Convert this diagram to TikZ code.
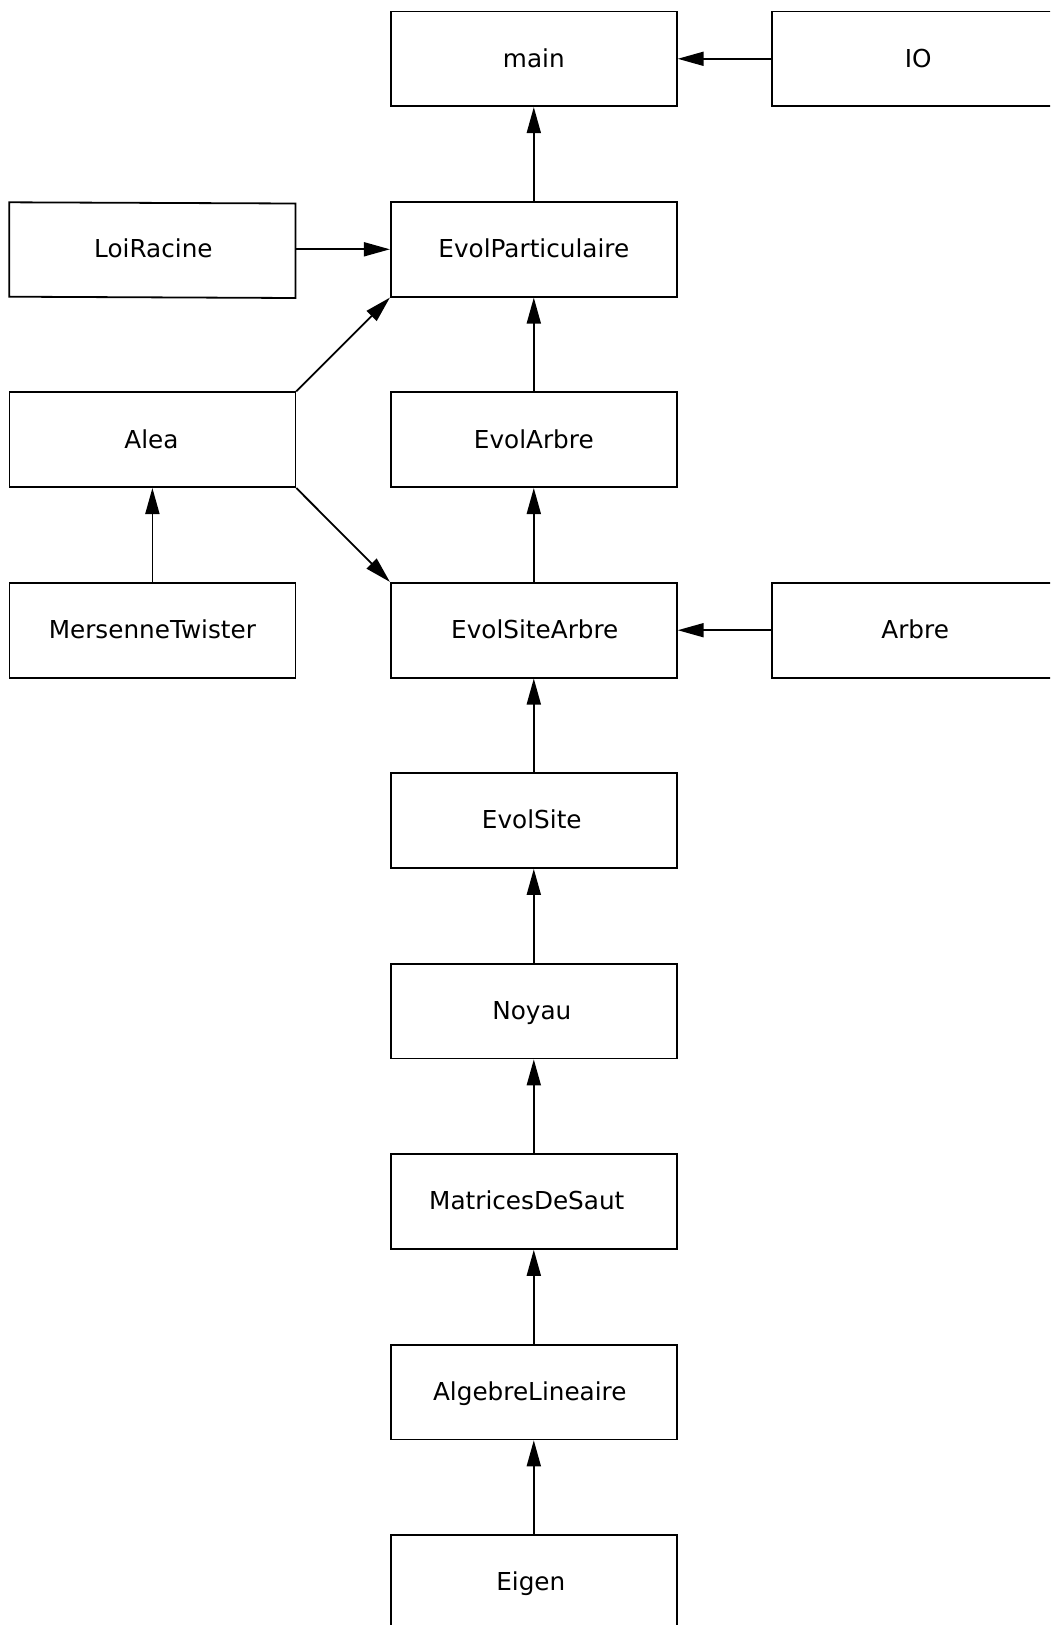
\documentclass[tikz,border=0pt]{standalone}
\usepackage{fontspec}
\setmainfont{DejaVu Sans}
\usetikzlibrary{arrows.meta}
\newcommand\shx[2]{\hspace*{#1}#2\hspace*{-#1}}
\begin{document}
\begin{tikzpicture}[x=1pt,y=-1pt,
  box/.style={draw, line width=1.8pt, minimum width=286pt, minimum height=94.8pt, inner sep=0pt,
    text height=20pt, text depth=3.4pt, font=\fontsize{24.7}{29}\selectfont},
  dep/.style={line width=1.8pt, -{Triangle[length=26pt,width=14pt]}}]
\clip (0,0) rectangle (1050,1625);
\useasboundingbox (0,0) rectangle (1050,1625);
% column 1: x=152.4, column 2: x=533.8, column 3: x=915.2
\node[box] (main) at (533.8,58.8) {main};
\node[box] (IO) at (915.2,58.8) {\shx{3pt}{IO}};
\node[box,draw=none] (LoiRacine) at (152.4,249.3) {\shx{1pt}{LoiRacine}};
\draw[line width=1.8pt] (9.3,202.3) -- (295.4,203.5) -- (295.4,298) -- (9.3,296.7) -- cycle;
\node[box] (EvolParticulaire) at (533.8,249.3) {EvolParticulaire};
\node[box] (Alea) at (152.4,439.7) {\shx{-1pt}{Alea}};
\node[box] (EvolArbre) at (533.8,439.7) {EvolArbre};
\node[box] (MersenneTwister) at (152.4,630.2) {MersenneTwister};
\node[box] (EvolSiteArbre) at (533.8,630.2) {\shx{1pt}{EvolSiteArbre}};
\node[box] (Arbre) at (915.2,630.2) {Arbre};
\node[box] (EvolSite) at (533.8,820.6) {\shx{-2pt}{EvolSite}};
\node[box] (Noyau) at (533.8,1011.1) {\shx{-2pt}{Noyau}};
\node[box] (MatricesDeSaut) at (533.8,1201.5) {\shx{-7pt}{MatricesDeSaut}};
\node[box] (AlgebreLineaire) at (533.8,1392) {\shx{-4pt}{AlgebreLineaire}};
\node[box] (Eigen) at (533.8,1582.4) {\shx{-3pt}{Eigen}};
% connectors
\draw[dep] (IO.west) -- (main.east);
\draw[dep] (EvolParticulaire.north) -- (main.south);
\draw[dep] (LoiRacine.east) -- (EvolParticulaire.west);
\draw[dep] (Alea.north east) -- (EvolParticulaire.south west);
\draw[dep] (EvolArbre.north) -- (EvolParticulaire.south);
\draw[dep] (MersenneTwister.north) -- (Alea.south);
\draw[dep] (Alea.south east) -- (EvolSiteArbre.north west);
\draw[dep] (EvolSiteArbre.north) -- (EvolArbre.south);
\draw[dep] (Arbre.west) -- (EvolSiteArbre.east);
\draw[dep] (EvolSite.north) -- (EvolSiteArbre.south);
\draw[dep] (Noyau.north) -- (EvolSite.south);
\draw[dep] (MatricesDeSaut.north) -- (Noyau.south);
\draw[dep] (AlgebreLineaire.north) -- (MatricesDeSaut.south);
\draw[dep] (Eigen.north) -- (AlgebreLineaire.south);
\end{tikzpicture}
\end{document}
